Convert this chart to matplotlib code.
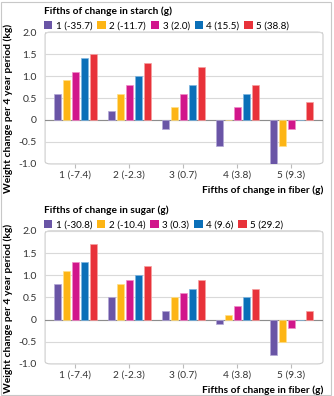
import matplotlib
matplotlib.use("Agg")
import matplotlib.pyplot as plt
import numpy as np
from matplotlib.patches import Rectangle, FancyBboxPatch

plt.rcParams['font.family'] = ['Lato', 'DejaVu Sans']
plt.rcParams['font.size'] = 7

# Fiber fifths (x groups)
fiber_labels = ["1 (-7.4)", "2 (-2.3)", "3 (0.7)", "4 (3.8)", "5 (9.3)"]

# Starch panel: one list per starch fifth, values across fiber fifths
starch_labels = ["1 (-35.7)", "2 (-11.7)", "3 (2.0)", "4 (15.5)", "5 (38.8)"]
starch_q1 = [0.6, 0.2, -0.2, -0.6, -1.0]
starch_q2 = [0.9, 0.6, 0.3, 0.0, -0.6]
starch_q3 = [1.1, 0.8, 0.6, 0.3, -0.2]
starch_q4 = [1.4, 1.0, 0.8, 0.6, 0.0]
starch_q5 = [1.5, 1.3, 1.2, 0.8, 0.4]

# Sugar panel
sugar_labels = ["1 (-30.8)", "2 (-10.4)", "3 (0.3)", "4 (9.6)", "5 (29.2)"]
sugar_q1 = [0.8, 0.5, 0.2, -0.1, -0.8]
sugar_q2 = [1.1, 0.8, 0.5, 0.1, -0.5]
sugar_q3 = [1.3, 0.9, 0.6, 0.3, -0.2]
sugar_q4 = [1.3, 1.0, 0.7, 0.5, 0.0]
sugar_q5 = [1.7, 1.2, 0.9, 0.7, 0.2]

colors = ["#6a55a6", "#fdb515", "#d1168b", "#0a6fb8", "#e8323a"]
edges = ["#b3a8d6", "#ffe08a", "#f08cc8", "#7fb6e0", "#f5a0a0"]


def panel(ax, series, labels, title):
    x = np.arange(1, 6)
    step = 0.167
    for i, vals in enumerate(series):
        ax.bar(x + (i - 2) * step, vals, width=0.13, color=colors[i],
               edgecolor=edges[i], linewidth=0.5, label=labels[i], zorder=3)
    ax.set_xlim(0.44, 5.59)
    ax.set_ylim(-1.0, 2.0)
    ax.set_yticks([-1.0, -0.5, 0, 0.5, 1.0, 1.5, 2.0])
    ax.set_yticklabels(["-1.0", "-0.5", "0", "0.5", "1.0", "1.5", "2.0"])
    ax.set_xticks(x)
    ax.set_xticklabels(fiber_labels)
    ax.grid(axis='y', color='#d9d9d9', linewidth=0.8, zorder=0)
    ax.axhline(0, color='#8c8c8c', linewidth=0.8, zorder=2)
    for s in ax.spines.values():
        s.set_visible(False)
    frame = FancyBboxPatch((0, 0), 1, 1, boxstyle="round,pad=0,rounding_size=0.02",
                           transform=ax.transAxes, fill=False,
                           edgecolor='#cccccc', linewidth=0.8, clip_on=False, zorder=1)
    ax.add_patch(frame)
    ax.tick_params(axis='y', length=0, pad=6, labelsize=7.5, colors='#333333')
    ax.tick_params(axis='x', length=3, color='#bbbbbb', pad=2, labelsize=7.3,
                   labelcolor='#333333')
    ax.set_ylabel("Weight change per 4 year period (kg)", fontweight='bold',
                  fontsize=7.4)
    ax.yaxis.set_label_coords(-0.115, 0.42)
    ax.set_xlabel("Fifths of change in fiber (g)", fontweight='bold', fontsize=7.3,
                  ha='right')
    ax.xaxis.set_label_coords(1.0, -0.16)
    leg = ax.legend(loc='lower left', bbox_to_anchor=(-0.01, 1.0), ncol=5,
                    frameon=False, title=title, handlelength=0.85, handleheight=0.85,
                    handletextpad=0.35, columnspacing=0.5, borderaxespad=0.15,
                    borderpad=0.0, fontsize=7.1, alignment='left',
                    title_fontproperties={'weight': 'bold', 'size': 7.3})
    for p in leg.get_patches():
        p.set_linewidth(0)


fig = plt.figure(figsize=(3.34, 3.96), dpi=100)
ax1 = fig.add_axes([0.135, 0.586, 0.832, 0.333])
ax2 = fig.add_axes([0.135, 0.081, 0.832, 0.336])

panel(ax1, [starch_q1, starch_q2, starch_q3, starch_q4, starch_q5], starch_labels,
      "Fifths of change in starch (g)")
panel(ax2, [sugar_q1, sugar_q2, sugar_q3, sugar_q4, sugar_q5], sugar_labels,
      "Fifths of change in sugar (g)")

fig.patches.append(Rectangle((0.002, 0.002), 0.99, 0.994, transform=fig.transFigure,
                             fill=False, edgecolor='#c8c8c8', linewidth=0.8))

fig.savefig("out.png", dpi=100)
